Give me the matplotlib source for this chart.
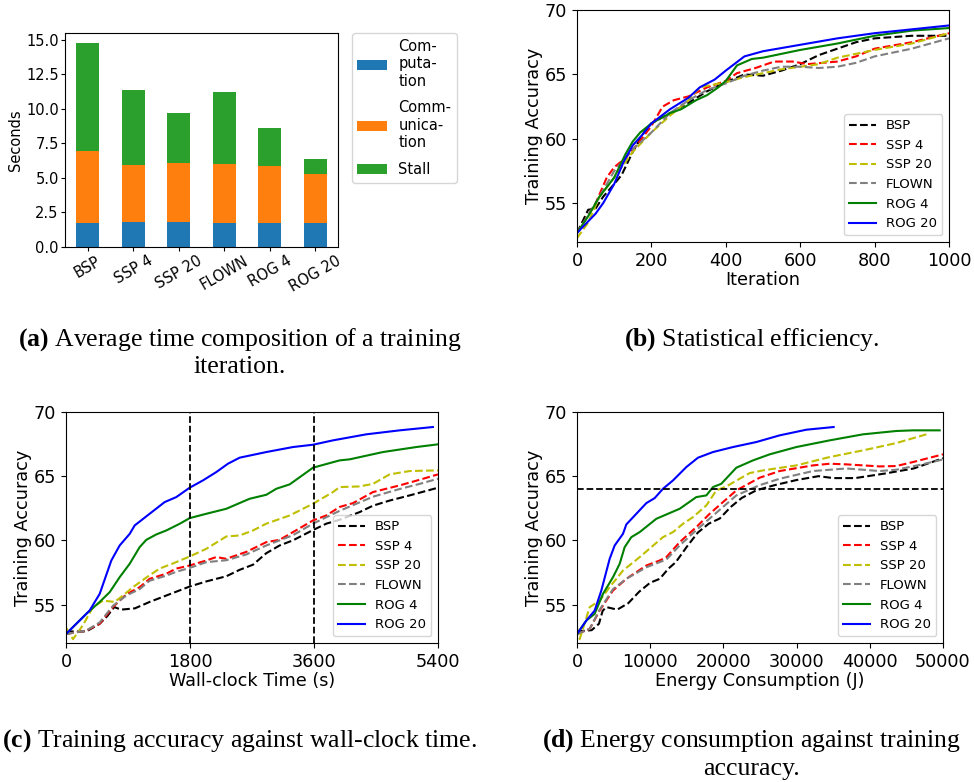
import numpy as np
import matplotlib.pyplot as plt

plt.rcParams['mathtext.fontset'] = 'custom'
plt.rcParams['mathtext.rm'] = 'Liberation Serif'
plt.rcParams['mathtext.bf'] = 'Liberation Serif:bold'

# (a) average time composition of one iteration (seconds)
systems = ['BSP', 'SSP 4', 'SSP 20', 'FLOWN', 'ROG 4', 'ROG 20']
computation = [1.71, 1.79, 1.79, 1.71, 1.71, 1.71]
communication = [5.22, 4.13, 4.27, 4.28, 4.14, 3.56]
stall = [7.83, 5.43, 3.63, 5.22, 2.75, 1.08]
part_names = ['Com-\nputa-\ntion', 'Comm-\nunica-\ntion', 'Stall']

labels = ['BSP', 'SSP 4', 'SSP 20', 'FLOWN', 'ROG 4', 'ROG 20']

# (b) accuracy vs iteration
it_bsp = [(0, 52.7), (30, 54.5), (50, 54.6), (70, 55.5), (100, 56.5), (120, 57.2), (150, 59.0),
          (180, 60.5), (200, 61.2), (250, 62.0), (300, 62.8), (350, 63.7), (400, 64.4), (450, 65.0),
          (500, 64.9), (550, 65.3), (600, 65.8), (650, 66.5), (700, 67.0), (750, 67.5), (800, 67.8),
          (900, 68.0), (1000, 68.0)]
it_ssp4 = [(0, 52.7), (50, 55.0), (80, 57.0), (100, 57.8), (130, 58.5), (160, 59.5), (200, 61.0),
           (230, 62.5), (260, 63.0), (300, 63.3), (350, 64.0), (400, 64.5), (430, 65.1), (480, 65.5),
           (530, 66.0), (580, 66.0), (620, 65.8), (700, 66.0), (750, 66.4), (800, 67.0), (900, 67.5),
           (1000, 68.2)]
it_ssp20 = [(0, 52.3), (30, 53.5), (60, 55.5), (100, 57.0), (150, 59.0), (200, 60.5), (250, 61.8),
            (300, 63.0), (330, 64.0), (400, 64.4), (450, 64.8), (500, 65.1), (550, 65.4), (600, 65.6),
            (650, 65.8), (700, 66.3), (800, 66.9), (900, 67.4), (1000, 68.2)]
it_flown = [(0, 52.7), (50, 55.0), (100, 57.5), (150, 59.2), (200, 60.5), (250, 62.0), (300, 63.0),
            (350, 63.8), (400, 64.3), (450, 64.9), (500, 65.3), (550, 65.6), (600, 65.6), (650, 65.5),
            (700, 65.6), (750, 65.9), (800, 66.4), (900, 67.0), (1000, 67.8)]
it_rog4 = [(0, 52.7), (30, 54.0), (60, 55.5), (100, 57.0), (130, 58.8), (150, 59.8), (170, 60.5),
           (200, 61.2), (250, 62.0), (280, 62.3), (320, 63.0), (350, 63.4), (380, 64.0), (400, 64.5),
           (430, 65.7), (470, 66.2), (500, 66.3), (600, 66.9), (700, 67.4), (800, 68.0), (900, 68.4),
           (1000, 68.6)]
it_rog20 = [(0, 52.7), (50, 54.2), (70, 55.0), (100, 56.5), (125, 58.2), (150, 59.5), (175, 60.3),
            (200, 61.2), (250, 62.3), (300, 63.2), (330, 64.0), (370, 64.6), (400, 65.3), (450, 66.4),
            (500, 66.8), (600, 67.3), (700, 67.8), (800, 68.2), (900, 68.5), (1000, 68.8)]

# (c) accuracy vs wall-clock time (s)
t_bsp = [(0, 52.9), (295, 52.9), (489, 53.5), (600, 54.1), (700, 54.8), (800, 54.6), (1000, 54.7),
         (1214, 55.2), (1456, 55.7), (1650, 56.1), (1795, 56.4), (2037, 56.8), (2327, 57.2),
         (2520, 57.7), (2714, 58.1), (2908, 59.0), (3101, 59.6), (3295, 60.0), (3585, 60.8),
         (3779, 61.3), (3972, 61.6), (4262, 62.2), (4456, 62.7), (4698, 63.1), (4988, 63.5),
         (5400, 64.1)]
t_ssp4 = [(0, 52.7), (295, 52.97), (489, 53.5), (682, 54.8), (876, 55.8), (1069, 56.35), (1214, 57.0),
          (1456, 57.4), (1601, 57.8), (1795, 58.04), (2037, 58.43), (2182, 58.7), (2327, 58.56),
          (2617, 59.1), (2908, 59.86), (3101, 60.04), (3295, 60.64), (3585, 61.55), (3779, 61.94),
          (3972, 62.6), (4166, 62.9), (4456, 63.76), (4843, 64.28), (5134, 64.72), (5400, 65.14)]
t_ssp20 = [(0, 53.2), (102, 52.3), (247, 53.4), (392, 54.8), (537, 55.3), (706, 55.2), (827, 55.7),
           (972, 56.35), (1166, 57.1), (1359, 57.8), (1553, 58.2), (1795, 58.74), (2037, 59.34),
           (2327, 60.3), (2520, 60.38), (2714, 60.77), (2908, 61.3), (3247, 61.94), (3585, 62.85),
           (3875, 63.76), (3972, 64.15), (4262, 64.2), (4456, 64.4), (4698, 65.14), (4988, 65.4),
           (5400, 65.45)]
t_flown = [(0, 52.7), (295, 52.97), (489, 53.6), (682, 54.9), (876, 55.7), (1069, 56.2), (1214, 56.85),
           (1456, 57.25), (1601, 57.55), (1795, 57.85), (2037, 58.3), (2327, 58.45), (2617, 58.9),
           (2908, 59.6), (3295, 60.4), (3585, 61.3), (3972, 62.3), (4456, 63.4), (4843, 64.0),
           (5134, 64.4), (5400, 64.8)]
t_rog4 = [(0, 52.7), (295, 54.27), (489, 55.2), (634, 55.96), (779, 57.13), (924, 58.17), (1069, 59.47),
          (1166, 60.04), (1311, 60.46), (1456, 60.77), (1650, 61.29), (1795, 61.73), (2037, 62.07),
          (2327, 62.46), (2666, 63.24), (2908, 63.55), (3053, 64.02), (3247, 64.36), (3585, 65.66),
          (3972, 66.23), (4117, 66.31), (4601, 66.88), (5085, 67.27), (5400, 67.48)]
t_rog20 = [(0, 52.7), (343, 54.53), (489, 55.83), (658, 58.43), (779, 59.6), (924, 60.5), (997, 61.16),
           (1214, 62.07), (1432, 62.98), (1601, 63.37), (1795, 64.1), (1988, 64.67), (2182, 65.32),
           (2351, 65.97), (2520, 66.44), (2908, 66.88), (3295, 67.27), (3585, 67.45), (3875, 67.79),
           (4359, 68.26), (4843, 68.57), (5326, 68.83)]

# (d) accuracy vs energy consumption (J)
e_bsp = [(0, 52.9), (2000, 53.0), (3000, 53.5), (3500, 54.5), (4000, 54.8), (5500, 54.6), (7000, 55.1),
         (8500, 56.0), (10000, 56.7), (11300, 57.0), (12500, 57.8), (13500, 58.3), (15000, 59.5),
         (16500, 60.6), (18000, 61.3), (19500, 61.7), (21000, 62.6), (22500, 63.3), (24500, 63.9),
         (27000, 64.3), (30000, 64.7), (33000, 65.0), (35000, 64.85), (38000, 64.85), (42000, 65.2),
         (46000, 65.6), (50000, 66.4)]
e_ssp4 = [(0, 52.7), (1731, 53.1), (3097, 54.53), (4918, 56.09), (6740, 57.0), (9472, 58.04),
          (11294, 58.43), (12205, 58.69), (14026, 59.86), (16303, 61.03), (18124, 62.07), (19946, 62.98),
          (21767, 63.89), (24954, 64.88), (27687, 65.4), (32240, 65.84), (34518, 65.97), (36795, 65.92),
          (41348, 65.76), (43625, 65.79), (45902, 66.1), (50000, 66.7)]
e_ssp20 = [(0, 53.2), (364, 52.3), (1731, 54.79), (3097, 55.31), (4463, 56.35), (6284, 57.65),
           (8561, 58.69), (11749, 60.25), (13115, 60.64), (14481, 61.29), (15847, 61.81), (17669, 62.72),
           (19034, 63.89), (20400, 64.2), (22222, 64.8), (23588, 65.24), (25410, 65.45), (29964, 65.84),
           (34518, 66.49), (39071, 67.01), (43625, 67.58), (47723, 68.26)]
e_flown = [(0, 52.7), (1731, 53.1), (3097, 54.6), (4918, 56.2), (6740, 57.0), (9472, 57.9), (11294, 58.3),
           (12205, 58.5), (14026, 59.6), (16303, 60.8), (18124, 61.7), (19946, 62.6), (21767, 63.5),
           (24954, 64.3), (27687, 64.8), (32240, 65.4), (36795, 65.6), (41348, 65.4), (43625, 65.5),
           (47000, 65.9), (50000, 66.3)]
e_rog4 = [(0, 52.7), (1275, 53.75), (2413, 54.27), (3552, 55.83), (4918, 57.13), (5829, 58.17),
          (6512, 59.47), (7423, 60.25), (8561, 60.64), (10838, 61.68), (14026, 62.46), (16303, 63.37),
          (17669, 63.5), (18579, 64.15), (19718, 64.41), (21767, 65.66), (24044, 66.23), (26321, 66.7),
          (29964, 67.27), (34518, 67.79), (39071, 68.26), (43625, 68.52), (45902, 68.57), (49545, 68.57)]
e_rog20 = [(0, 52.7), (1275, 53.75), (2413, 54.53), (3325, 56.09), (4463, 58.56), (5146, 59.6),
           (6284, 60.51), (6740, 61.24), (8106, 62.07), (9472, 62.9), (10610, 63.29), (11749, 64.02),
           (13115, 64.67), (14936, 65.71), (16530, 66.44), (18579, 66.88), (21311, 67.27), (24499, 67.66),
           (27687, 68.18), (31330, 68.62), (35064, 68.83)]

styles = ['k--', 'r--', 'y--', '--', 'g-', 'b-']
extra = [{}, {}, {}, {'color': 'grey'}, {}, {}]

fig = plt.figure(figsize=(9.74, 7.82), dpi=100)
W, H = 974.0, 782.0

def box(x0, y0, x1, y1):
    return [x0 / W, 1 - y1 / H, (x1 - x0) / W, (y1 - y0) / H]

# ---- (a) stacked bars
ax = fig.add_axes(box(65, 33, 338, 247))
pos = np.arange(len(systems))
bottom2 = np.array(computation) + np.array(communication)
ax.bar(pos, computation, 0.5, color='tab:blue', label=part_names[0])
ax.bar(pos, communication, 0.5, bottom=computation, color='tab:orange', label=part_names[1])
ax.bar(pos, stall, 0.5, bottom=bottom2, color='tab:green', label=part_names[2])
ax.set_xlim(-0.5, len(systems) - 0.5)
ax.set_ylim(0, 15.5)
ax.set_yticks(np.arange(0, 15.1, 2.5))
ax.set_xticks(pos)
ax.set_xticklabels(systems, rotation=30, fontsize=10.5)
ax.tick_params(axis='y', labelsize=10.5)
ax.tick_params(length=3, pad=1.5)
ax.set_ylabel('Seconds', fontsize=10.5, labelpad=2)
ax.legend(loc='upper left', bbox_to_anchor=(1.05, 1.0), borderaxespad=0, fontsize=10.5,
          labelspacing=0.8)


def curve_panel(rect, series, xlabel, xlim, xticks):
    ax = fig.add_axes(rect)
    for pts, st, kw, lab in zip(series, styles, extra, labels):
        xy = np.array(pts)
        ax.plot(xy[:, 0], xy[:, 1], st, lw=1.5, label=lab, **kw)
    ax.set_xlim(*xlim)
    ax.set_ylim(52, 70)
    ax.set_xticks(xticks)
    ax.set_yticks([55, 60, 65, 70])
    ax.tick_params(labelsize=12.7)
    ax.set_xlabel(xlabel, fontsize=12.7, labelpad=1)
    ax.set_ylabel('Training Accuracy', fontsize=12.7, labelpad=1.5)
    ax.legend(loc='lower right', fontsize=9.5)
    return ax

# ---- (b)
curve_panel(box(577, 10, 949, 242), [it_bsp, it_ssp4, it_ssp20, it_flown, it_rog4, it_rog20],
            'Iteration', (0, 1000), [0, 200, 400, 600, 800, 1000])

# ---- (c)
axc = curve_panel(box(66, 412, 438, 643), [t_bsp, t_ssp4, t_ssp20, t_flown, t_rog4, t_rog20],
                  'Wall-clock Time (s)', (0, 5400), [0, 1800, 3600, 5400])
for v in [1800, 3600]:
    axc.axvline(v, color='k', ls='--', lw=1.3)

# ---- (d)
axd = curve_panel(box(577, 412, 943, 643), [e_bsp, e_ssp4, e_ssp20, e_flown, e_rog4, e_rog20],
                  'Energy Consumption (J)', (0, 50000), [0, 10000, 20000, 30000, 40000, 50000])
axd.axhline(64, color='k', ls='--', lw=1.3)

# ---- captions
cap = dict(ha='center', va='baseline', fontsize=18.5, family='Liberation Serif')
fig.text(240 / W, 1 - 346 / H, r'$\mathbf{(a)}$ Average time composition of a training', **cap)
fig.text(240 / W, 1 - 373 / H, 'iteration.', **cap)
fig.text(752 / W, 1 - 346 / H, r'$\mathbf{(b)}$ Statistical efficiency.', **cap)
fig.text(240 / W, 1 - 747 / H, r'$\mathbf{(c)}$ Training accuracy against wall-clock time.', **cap)
fig.text(752 / W, 1 - 747 / H, r'$\mathbf{(d)}$ Energy consumption against training', **cap)
fig.text(752 / W, 1 - 775 / H, 'accuracy.', **cap)

fig.savefig('out.png', dpi=100)
